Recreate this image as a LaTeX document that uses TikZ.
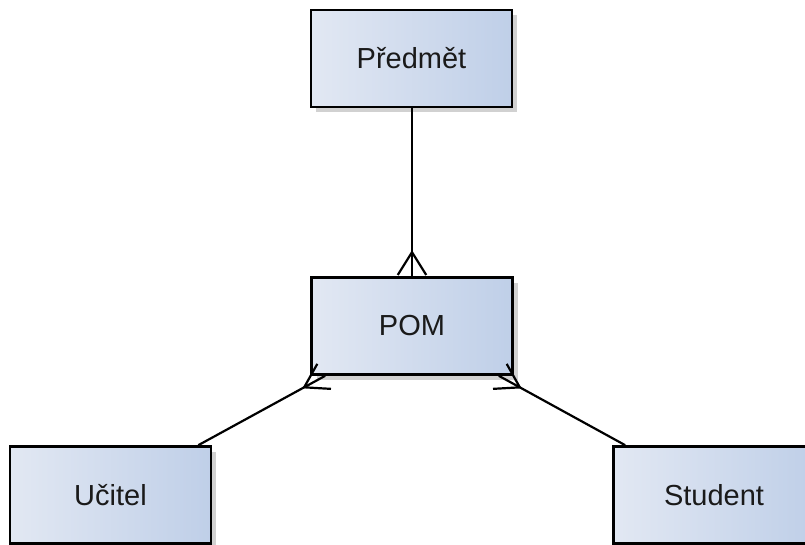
\documentclass[tikz,border=0pt]{standalone}
\usepackage{fontspec}
\setmainfont{Liberation Sans}
\usetikzlibrary{calc,shadows}
\definecolor{boxL}{HTML}{E2E8F3}
\definecolor{boxR}{HTML}{BFCFE8}
\definecolor{txt}{HTML}{1A1A1A}
\tikzset{
  entity/.style={draw=black, line width=2.6pt, rectangle, minimum width=201pt, minimum height=97pt,
    inner sep=0pt, left color=boxL, right color=boxR, text=txt,
    font=\fontsize{29}{33}\selectfont,
    drop shadow={shadow xshift=5pt, shadow yshift=-5pt, opacity=.18, fill=black}},
  conn/.style={line width=2.2pt}
}
% crow's foot at #1, line coming from #2
\newcommand{\crowfoot}[2]{%
  \coordinate (cf) at ($(#1)!24pt!(#2)$);
  \draw[conn] (cf) -- ($(cf)!1.12!32:(#1)$) (cf) -- ($(cf)!1.12!-32:(#1)$);}

\begin{document}
\begin{tikzpicture}[x=1pt, y=-1pt]
\path[use as bounding box, clip] (0,0) rectangle (805,545);
\node[entity] (pred) at (411.5,58.5) {Předmět};
\node[entity] (pom) at (412,326) {POM};
\node[entity] (uc) at (110.5,495) {Učitel};
\node[entity] (st) at (714,495) {Student};
\coordinate (pred-end) at (pred.south -| pom.north);
\coordinate (pom-l) at ($(pom.south west)+(15,0)$);
\coordinate (pom-r) at ($(pom.south east)+(-15,0)$);
\coordinate (uc-end) at ($(uc.north east)+(-14,0)$);
\coordinate (st-end) at ($(st.north west)+(13,0)$);
\draw[conn] (pred-end) -- (pom.north);
\crowfoot{pom.north}{pred-end}
\draw[conn] (uc-end) -- (pom-l);
\crowfoot{pom-l}{uc-end}
\draw[conn] (st-end) -- (pom-r);
\crowfoot{pom-r}{st-end}
\end{tikzpicture}
\end{document}
